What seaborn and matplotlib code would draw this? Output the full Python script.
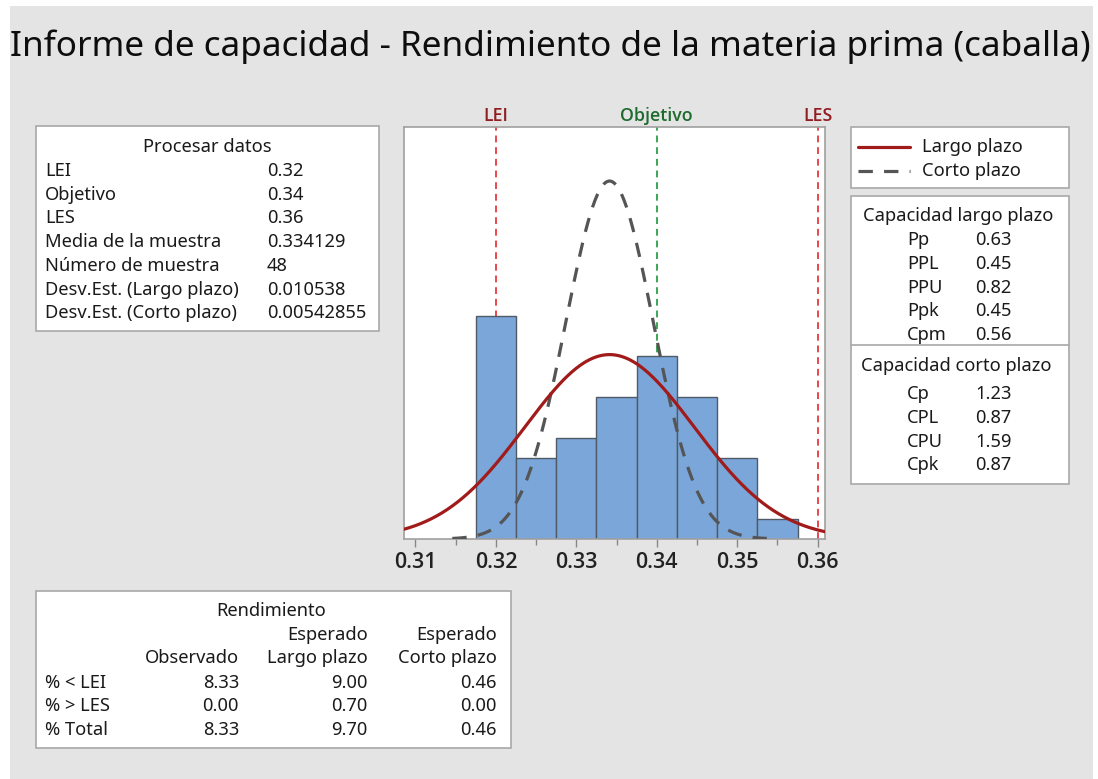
import numpy as np
import pandas as pd
import matplotlib
matplotlib.use("Agg")
import matplotlib.pyplot as plt
from matplotlib.patches import Rectangle
from matplotlib.lines import Line2D
import seaborn as sns

# ---------------- data ----------------
bin_edges = [0.3175, 0.3225, 0.3275, 0.3325, 0.3375, 0.3425, 0.3475, 0.3525, 0.3575]
bin_counts = [11, 4, 5, 7, 9, 7, 4, 1]
lei, objetivo, les = 0.32, 0.34, 0.36
media = 0.334129
n_muestra = 48
sd_largo = 0.010538
sd_corto = 0.00542855

proc_labels = ["LEI", "Objetivo", "LES", "Media de la muestra", "Número de muestra",
               "Desv.Est. (Largo plazo)", "Desv.Est. (Corto plazo)"]
proc_values = ["0.32", "0.34", "0.36", "0.334129", "48", "0.010538", "0.00542855"]

cap_lp_labels = ["Pp", "PPL", "PPU", "Ppk", "Cpm"]
cap_lp_values = ["0.63", "0.45", "0.82", "0.45", "0.56"]
cap_cp_labels = ["Cp", "CPL", "CPU", "Cpk"]
cap_cp_values = ["1.23", "0.87", "1.59", "0.87"]

rend_rows = ["% < LEI", "% > LES", "% Total"]
rend_obs = ["8.33", "0.00", "8.33"]
rend_lp = ["9.00", "0.70", "9.70"]
rend_cp = ["0.46", "0.00", "0.46"]

x_ticks = [0.31, 0.32, 0.33, 0.34, 0.35, 0.36]
x_tick_labels = ["0.31", "0.32", "0.33", "0.34", "0.35", "0.36"]

# ---------------- style ----------------
sns.set_theme(style="white")
plt.rcParams['font.family'] = ['Noto Sans', 'DejaVu Sans']

W, H = 1098, 779
fig = plt.figure(figsize=(W / 100, H / 100), dpi=100)
fig.patch.set_facecolor("white")

FS = 13.2


def P(x, y):
    return (x / W, 1 - y / H)


def box(x0, y0, x1, y1, fc="white", ec="#a8a8a8", lw=1.2, z=0):
    fig.patches.append(Rectangle(P(x0, y1), (x1 - x0) / W, (y1 - y0) / H,
                                 transform=fig.transFigure, facecolor=fc,
                                 edgecolor=ec, linewidth=lw, zorder=z))


def txt(x, y, s, ha="left", size=FS, color="#1a1a1a", **kw):
    fig.text(*P(x, y), s, ha=ha, va="center", fontsize=size, color=color, **kw)


# grey background panel
box(10, 6, 1093, 790, fc="#e4e4e4", ec="none", lw=0, z=-10)

# title
txt(10, 47, "Informe de capacidad - Rendimiento de la materia prima (caballa)",
    size=25.3, color="#0d0d0d")

# ---------------- histogram ----------------
ax_l, ax_r, ax_t, ax_b = 404, 825, 127, 539
ax = fig.add_axes([ax_l / W, 1 - ax_b / H, (ax_r - ax_l) / W, (ax_b - ax_t) / H])
ax.set_facecolor("white")

centers = [(a + b) / 2 for a, b in zip(bin_edges[:-1], bin_edges[1:])]
df_hist = pd.DataFrame({"x": centers, "w": bin_counts})
sns.histplot(data=df_hist, x="x", weights="w", bins=bin_edges, ax=ax,
             color="#7ba6d9", edgecolor="#505a66", linewidth=1.0, alpha=1.0, zorder=2)

xmin, xmax = 0.30858, 0.36091
bw = bin_edges[1] - bin_edges[0]
xs = np.linspace(xmin, xmax, 400)
y_lp = n_muestra * bw * np.exp(-0.5 * ((xs - media) / sd_largo) ** 2) / (sd_largo * np.sqrt(2 * np.pi))
xs2 = np.linspace(media - 3.6 * sd_corto, media + 3.6 * sd_corto, 400)
y_cp = n_muestra * bw * np.exp(-0.5 * ((xs2 - media) / sd_corto) ** 2) / (sd_corto * np.sqrt(2 * np.pi))

for xv, col in [(lei, "#e8474c"), (objetivo, "#3aa655"), (les, "#e8474c")]:
    ax.axvline(xv, color=col, linestyle=(0, (3.5, 2.5)), linewidth=1.4, zorder=1)

sns.lineplot(x=xs2, y=y_cp, ax=ax, color="#555555", linewidth=2.3,
             linestyle=(0, (4.5, 3.5)), zorder=4)
sns.lineplot(x=xs, y=y_lp, ax=ax, color="#a11b1b", linewidth=2.3, zorder=5)

ax.set_xlim(xmin, xmax)
ax.set_ylim(0, 20.3)
ax.set_yticks([])
ax.set_xticks(x_ticks)
ax.set_xticklabels(x_tick_labels, fontsize=15.5, color="#222222",
                   family=["Open Sans", "Noto Sans", "DejaVu Sans"], fontweight="semibold")
ax.set_xticks([0.315, 0.325, 0.335, 0.345, 0.355], minor=True)
ax.tick_params(axis="x", which="major", direction="out", length=6, width=1,
               color="#888888", pad=3, bottom=True)
ax.tick_params(axis="x", which="minor", direction="out", length=4, width=1,
               color="#888888", bottom=True)
ax.set_xlabel("")
ax.set_ylabel("")
for s in ax.spines.values():
    s.set_color("#a0a0a0")
    s.set_linewidth(1.2)

# limit labels
for xv, lab, col in [(lei, "LEI", "#8f1d21"), (objetivo, "Objetivo", "#1f6b2e"), (les, "LES", "#8f1d21")]:
    ax.text(xv, 1.005, lab, transform=ax.get_xaxis_transform(), ha="center", va="bottom",
            fontsize=12.8, color=col, family=["Open Sans", "Noto Sans", "DejaVu Sans"],
            fontweight="semibold")

# ---------------- Procesar datos ----------------
box(36, 126, 379, 331)
txt(207, 147, "Procesar datos", ha="center")
for i, (l, v) in enumerate(zip(proc_labels, proc_values)):
    y = 171 + i * 23.7
    txt(45, y, l)
    txt(267, y, v)

# ---------------- legend ----------------
box(851, 127, 1069, 188)
fig.lines.append(Line2D([858 / W, 910 / W], [P(0, 147)[1]] * 2, transform=fig.transFigure,
                        color="#a11b1b", linewidth=2.3))
fig.lines.append(Line2D([858 / W, 910 / W], [P(0, 171)[1]] * 2, transform=fig.transFigure,
                        color="#555555", linewidth=2.3, linestyle=(0, (4.5, 3.5))))
txt(922, 147, "Largo plazo")
txt(922, 171, "Corto plazo")

# ---------------- capability ----------------
box(851, 196, 1069, 484)
fig.lines.append(Line2D([851 / W, 1069 / W], [P(0, 345)[1]] * 2, transform=fig.transFigure,
                        color="#a8a8a8", linewidth=1.2))
txt(958, 216, "Capacidad largo plazo", ha="center")
for i, (l, v) in enumerate(zip(cap_lp_labels, cap_lp_values)):
    y = 240 + i * 23.8
    txt(907, y, l)
    txt(975, y, v)
txt(956, 366, "Capacidad corto plazo", ha="center")
for i, (l, v) in enumerate(zip(cap_cp_labels, cap_cp_values)):
    y = 394 + i * 23.8
    txt(907, y, l)
    txt(975, y, v)

# ---------------- Rendimiento ----------------
box(36, 591, 511, 748)
txt(271, 611, "Rendimiento", ha="center")
txt(368, 635, "Esperado", ha="right")
txt(497, 635, "Esperado", ha="right")
txt(239, 658, "Observado", ha="right")
txt(368, 658, "Largo plazo", ha="right")
txt(497, 658, "Corto plazo", ha="right")
for i, r in enumerate(rend_rows):
    y = 683 + i * 23.3
    txt(45, y, r)
    txt(239, y, rend_obs[i], ha="right")
    txt(368, y, rend_lp[i], ha="right")
    txt(497, y, rend_cp[i], ha="right")

fig.savefig("out.png", dpi=100)
